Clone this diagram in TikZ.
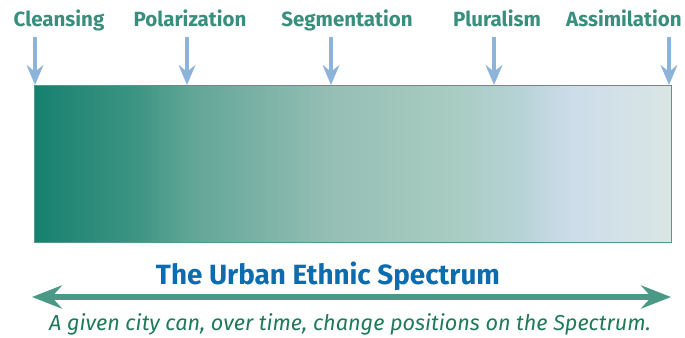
\documentclass[tikz,border=0pt]{standalone}
\usepackage{fontspec}
\setmainfont{Fira Sans}
\usepackage{xcolor}
\usetikzlibrary{arrows.meta,positioning}

\definecolor{stageteal}{HTML}{3A8E7E}
\definecolor{markblue}{HTML}{8CB4DA}
\definecolor{titleblue}{HTML}{0B6CB0}
\definecolor{spanteal}{HTML}{4A9886}
\definecolor{notegreen}{HTML}{1F7A58}
\definecolor{barrim}{HTML}{4F9C8C}
\definecolor{sp0}{HTML}{17806F}
\definecolor{sp1}{HTML}{3D9483}
\definecolor{sp2}{HTML}{5FA596}
\definecolor{sp3}{HTML}{95BEB4}
\definecolor{sp4}{HTML}{A8CCC1}
\definecolor{sp5}{HTML}{B6D2D6}
\definecolor{sp6}{HTML}{CCDCE9}
\definecolor{sp7}{HTML}{D3E1E8}
\definecolor{sp8}{HTML}{DAE6E3}

% map of the bar onto 25bp..75bp
\pgfdeclarehorizontalshading{spectrum}{100bp}{color(0bp)=(sp0); color(25bp)=(sp0);
  color(33bp)=(sp1); color(37bp)=(sp2); color(48bp)=(sp3); color(58bp)=(sp4);
  color(63bp)=(sp5); color(67bp)=(sp6); color(71bp)=(sp7); color(75bp)=(sp8); color(100bp)=(sp8)}

\begin{document}
\begin{tikzpicture}[
    x=0.025cm, y=-0.025cm,
    stage/.style={font=\bfseries\fontsize{14.6}{16}\selectfont, text=stageteal, inner sep=0pt, anchor=base},
    marker/.style={-{Stealth[length=0.5cm, width=0.42cm, inset=0.17cm]}, line width=2.2pt, draw=markblue},
    span/.style={{Stealth[length=0.75cm, width=0.58cm, inset=0.26cm]}-{Stealth[length=0.75cm, width=0.58cm, inset=0.26cm]}, line width=3.6pt, draw=spanteal}
  ]
  \useasboundingbox (0,0) rectangle (685,337);

  % the spectrum bar
  \node[draw=barrim, line width=0.8pt, shading=spectrum, minimum width=15.925cm, minimum height=3.925cm, inner sep=0pt, anchor=north west] (bar) at (34,85) {};

  % stages along the top
  \node[stage] (cleansing) at (59,26) {Cleansing};
  \node[stage] (polarization) at (190,26) {Polarization};
  \node[stage] (segmentation) at (347,26) {Segmentation};
  \node[stage] (pluralism) at (497,26) {Pluralism};
  \node[stage] (assimilation) at (624,26) {Assimilation};

  \coordinate (mcleansing) at (35,37);
  \coordinate (mpolarization) at (187,37);
  \coordinate (msegmentation) at (331,37);
  \coordinate (mpluralism) at (494,37);
  \coordinate (massimilation) at (669,37);
  \foreach \m in {mcleansing,mpolarization,msegmentation,mpluralism,massimilation}
    \draw[marker] (\m) -- (\m |- bar.north);

  % caption and span arrow
  \node[font=\bfseries\fontsize{19.8}{23}\selectfont, text=titleblue, inner sep=0pt] (title) at (328,276) {The Urban Ethnic Spectrum};
  \coordinate (spanleft) at (32,297);
  \coordinate (spanright) at (671,297);
  \draw[span] (spanleft) -- (spanright);
  \node[font=\itshape\fontsize{15.4}{17}\selectfont, text=notegreen, inner sep=0pt] (note) at (350,324) {A given city can, over time, change positions on the Spectrum.};
\end{tikzpicture}
\end{document}
